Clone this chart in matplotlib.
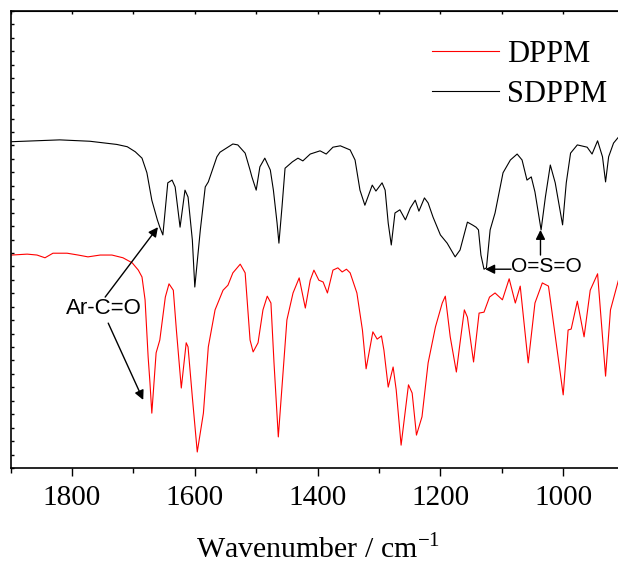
import numpy as np
import matplotlib.pyplot as plt
from matplotlib.ticker import MultipleLocator, FixedLocator

plt.rcParams['font.family'] = ['Liberation Serif', 'DejaVu Serif']
plt.rcParams['mathtext.fontset'] = 'stix'

# ---------------- data ----------------
wn_sdppm = [1898, 1820, 1771, 1727, 1710, 1697, 1686, 1678, 1670, 1661, 1657, 1652,
            1644, 1637, 1632, 1624, 1616, 1611, 1604, 1600, 1591, 1583, 1578, 1564,
            1559, 1538, 1530, 1518, 1510, 1507, 1500, 1494, 1486, 1477, 1472, 1466,
            1463, 1458, 1453, 1441, 1432, 1424, 1412, 1396, 1386, 1375, 1363, 1347,
            1339, 1331, 1323, 1311, 1305, 1295, 1290, 1285, 1280, 1274, 1266, 1257,
            1249, 1241, 1235, 1226, 1220, 1212, 1200, 1189, 1176, 1168, 1156, 1148,
            1142, 1138, 1134, 1129, 1125, 1119, 1111, 1098, 1086, 1075, 1067, 1059,
            1052, 1046, 1036, 1029, 1021, 1013, 1001, 995, 988, 977, 961, 953,
            944, 936, 931, 926, 918, 910, 900]
t_sdppm = [71.4, 71.8, 71.5, 70.8, 70.3, 69.2, 67.8, 64.6, 58.6, 54.3, 52.7, 51.0,
           62.4, 63.0, 61.5, 52.7, 60.8, 59.3, 49.9, 39.6, 52.1, 61.5, 62.6, 68.1,
           69.1, 70.9, 70.7, 68.9, 65.2, 63.7, 60.8, 65.9, 67.8, 65.2, 60.8, 53.6,
           49.2, 57.1, 65.6, 67.0, 67.8, 67.2, 68.7, 69.4, 68.7, 70.2, 70.5, 69.6,
           67.4, 60.8, 57.5, 61.9, 60.6, 62.4, 60.8, 53.6, 48.8, 55.8, 56.5, 54.3,
           56.9, 58.6, 56.2, 59.1, 58.0, 54.9, 51.0, 49.2, 46.2, 47.7, 53.8, 53.2,
           52.7, 52.1, 46.6, 43.5, 43.8, 52.1, 55.8, 64.6, 67.4, 68.7, 67.4, 63.0,
           63.7, 60.4, 52.1, 59.3, 66.3, 62.4, 53.2, 62.4, 68.9, 70.7, 70.2, 68.7,
           71.6, 68.1, 62.6, 68.1, 71.1, 72.4, 73.5]

wn_dppm = [1898, 1873, 1857, 1844, 1831, 1808, 1790, 1774, 1754, 1735, 1717, 1702,
           1692, 1686, 1681, 1676, 1673, 1670, 1663, 1657, 1648, 1642, 1635, 1630,
           1622, 1614, 1611, 1604, 1596, 1586, 1578, 1567, 1554, 1546, 1538, 1526,
           1518, 1510, 1505, 1497, 1489, 1482, 1476, 1471, 1464, 1456, 1450, 1440,
           1430, 1420, 1412, 1406, 1398, 1391, 1384, 1375, 1367, 1360, 1353, 1347,
           1336, 1327, 1321, 1310, 1303, 1296, 1292, 1285, 1277, 1272, 1264, 1252,
           1246, 1239, 1230, 1220, 1208, 1197, 1192, 1184, 1174, 1168, 1161, 1156,
           1146, 1137, 1129, 1120, 1111, 1099, 1088, 1078, 1070, 1057, 1046, 1034,
           1024, 1018, 1000, 992, 987, 977, 966, 956, 944, 931, 923, 910, 900]
t_dppm = [46.6, 46.8, 46.6, 46.0, 47.0, 47.0, 46.6, 46.2, 46.6, 46.6, 46.0, 44.9,
          43.3, 41.8, 36.8, 24.3, 18.6, 12.0, 25.2, 28.0, 37.4, 40.3, 38.9, 30.2,
          17.5, 27.4, 26.5, 15.5, 3.5, 12.0, 26.5, 34.6, 38.9, 40.0, 42.7, 44.6,
          42.7, 28.0, 25.4, 27.4, 34.6, 37.6, 36.1, 23.0, 6.8, 21.4, 32.4, 38.3,
          41.6, 35.0, 41.1, 43.3, 41.1, 40.7, 38.3, 43.3, 43.8, 42.9, 43.5, 42.7,
          38.3, 30.2, 21.7, 29.8, 28.2, 28.9, 25.8, 17.7, 22.1, 17.1, 5.0, 18.2,
          16.4, 7.2, 11.2, 23.0, 30.9, 36.1, 37.6, 28.7, 21.0, 27.4, 34.6, 33.0,
          23.2, 33.9, 34.1, 37.4, 38.3, 36.8, 41.4, 36.1, 39.8, 23.0, 36.1, 40.5,
          39.8, 33.9, 16.0, 30.2, 30.4, 36.5, 28.7, 38.9, 42.5, 20.1, 34.6, 41.1, 43.5]

# ---------------- plot ----------------
fig = plt.figure(figsize=(6.18, 5.66), dpi=100)
ax = fig.add_axes([10.6 / 618, 1 - 468 / 566, 614 / 618, 457 / 566])

ax.plot(wn_dppm, t_dppm, color='#ff0000', lw=0.8, label='DPPM')
ax.plot(wn_sdppm, t_sdppm, color='k', lw=0.8, label='SDPPM')

ax.set_xlim(1900, 900)
ax.set_ylim(0, 100)

ax.xaxis.set_major_locator(MultipleLocator(200))
ax.xaxis.set_minor_locator(MultipleLocator(100))
ax.yaxis.set_major_locator(FixedLocator(np.linspace(0, 100, 35)))
ax.tick_params(axis='x', which='major', direction='out', length=6, width=1,
               labelsize=21, pad=6.5)
ax.tick_params(axis='x', which='minor', direction='out', length=3.5, width=1)
ax.tick_params(axis='y', which='major', direction='in', length=2.5, width=1,
               labelleft=False)
for sp in ax.spines.values():
    sp.set_linewidth(1.2)

# top axis ticks
top = ax.secondary_xaxis('top')
top.xaxis.set_major_locator(MultipleLocator(100))
top.tick_params(direction='in', length=2, width=1, labeltop=False)

ax.set_xlabel('Wavenumber / cm$^{\\mathregular{-1}}$', fontsize=21.5, labelpad=17)

leg = ax.legend(loc='upper left', bbox_to_anchor=(432 / 618, 1 - 40 / 566),
                bbox_transform=fig.transFigure, frameon=False, fontsize=22,
                handlelength=2.2, handletextpad=0.25, labelspacing=0.35,
                borderpad=0, borderaxespad=0)

# annotations
ax.text(1748, 35.0, 'Ar-C=O', family=['Liberation Sans', 'DejaVu Sans'],
        fontsize=16, ha='center', va='center')
aprops = dict(arrowstyle='-|>', color='k', lw=1, mutation_scale=14,
              shrinkA=0, shrinkB=0)
ax.annotate('', xy=(1660, 52.7), xytext=(1746, 37.4), arrowprops=aprops)
ax.annotate('', xy=(1684, 14.9), xytext=(1741, 31.7), arrowprops=aprops)

ax.text(1028, 44.0, 'O=S=O', family=['Liberation Sans', 'DejaVu Sans'],
        fontsize=15, ha='center', va='center')
ax.annotate('', xy=(1127, 43.5), xytext=(1085, 43.5), arrowprops=aprops)
ax.annotate('', xy=(1037, 52.1), xytext=(1037, 46.6), arrowprops=aprops)

fig.savefig('out.png', dpi=100)
